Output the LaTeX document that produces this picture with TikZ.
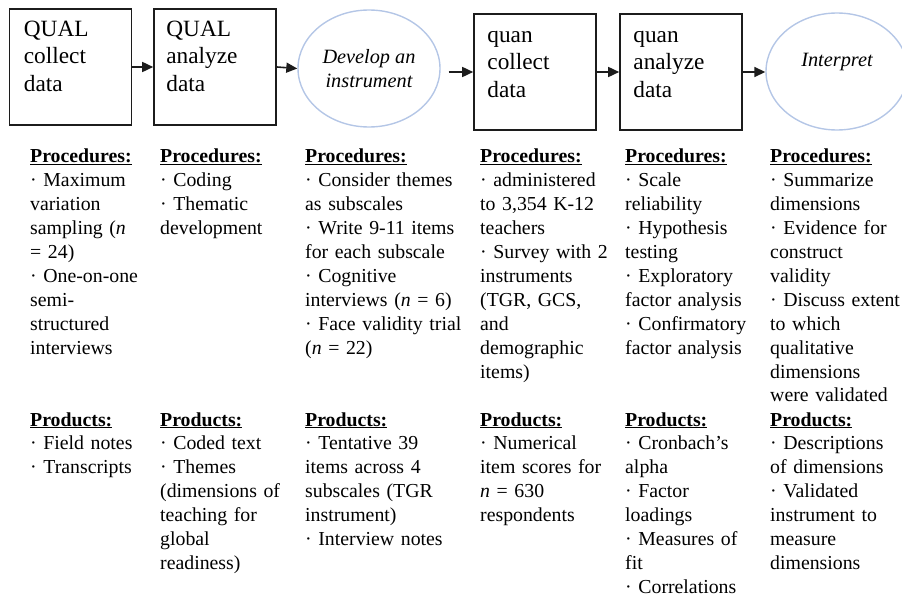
\documentclass[tikz,border=0pt]{standalone}
\usepackage{fontspec}
\setmainfont{Liberation Serif}
\usepackage{xcolor}
\usepackage{tikz}
\usetikzlibrary{positioning, arrows.meta, shapes.geometric}
\definecolor{ink}{HTML}{1C1C1C}
\definecolor{ovalline}{HTML}{B4C6E6}
\tikzset{
  stage/.style    = {rectangle, draw=ink, line width=1.6pt, inner sep=0pt,
                     minimum width=122pt, minimum height=116pt},
  stagetxt/.style = {anchor=base west, align=left, inner sep=0pt, text width=104pt,
                     font=\fontsize{23.3}{27.8}\selectfont},
  oval/.style     = {ellipse, draw=ovalline, line width=1.4pt, inner sep=0pt,
                     minimum width=142pt, minimum height=117pt, align=center,
                     font=\fontsize{20.3}{24}\selectfont\itshape},
  notes/.style    = {anchor=base west, align=left, inner sep=0pt, text width=170pt,
                     font=\fontsize{19.8}{23.9}\selectfont},
  ar/.style       = {-{Triangle[length=11pt,width=10pt]}, line width=1.6pt, draw=ink},
}
\newcommand{\hd}[1]{\underline{\textbf{#1}}}

\begin{document}
\begin{tikzpicture}[x=1pt, y=-1pt]
  \useasboundingbox (0,0) rectangle (902,599);

  % top row
  \node[stage] (qlcol) at (70.5,67) {};
  \node[stage] (qlana) at (215,67) {};
  \node[oval]  (dev)   at (369,68.5) {Develop an\\instrument};
  \node[stage] (qncol) at (535,72) {};
  \node[stage] (qnana) at (681,72) {};
  \node[oval, text height=14pt, text depth=23pt] (interp) at (837,71.5) {Interpret};

  \node[stagetxt] (qlcolt) at ([xshift=15pt, yshift=-28pt]qlcol.north west) {QUAL\\collect\\data};
  \node[stagetxt] (qlanat) at ([xshift=13pt, yshift=-28pt]qlana.north west) {QUAL\\analyze\\data};
  \node[stagetxt] (qncolt) at ([xshift=14pt, yshift=-29pt]qncol.north west) {quan\\collect\\data};
  \node[stagetxt] (qnanat) at ([xshift=14pt, yshift=-29pt]qnana.north west) {quan\\analyze\\data};

  \draw[ar] (qlcol.east) -- (qlana.west);
  \draw[ar] (qlana.east) -- (dev.west);
  \draw[ar, shorten <=8pt] (dev.east |- qncol.west) -- (qncol.west);
  \draw[ar] (qncol.east) -- (qnana.west);
  \draw[ar] (qnana.east) -- (interp.west |- qnana.east);

  % procedures
  \node[notes] (proc1) at (30,163) {\hd{Procedures:}\\
    · Maximum\\ variation\\ sampling (\textit{n}\\ = 24)\\ · One-on-one\\ semi-\\ structured\\ interviews};
  \node[notes] (proc2) at (160,163) {\hd{Procedures:}\\
    · Coding\\ · Thematic\\ development};
  \node[notes] (proc3) at (305,163) {\hd{Procedures:}\\
    · Consider themes\\ as subscales\\ · Write 9-11 items\\ for each subscale\\
    · Cognitive\\ interviews (\textit{n} = 6)\\ · Face validity trial\\ (\textit{n} = 22)};
  \node[notes] (proc4) at (480,163) {\hd{Procedures:}\\
    · administered\\ to 3,354 K-12\\ teachers\\ · Survey with 2\\ instruments\\
    (TGR, GCS,\\ and\\ demographic\\ items)};
  \node[notes] (proc5) at (625,163) {\hd{Procedures:}\\
    · Scale\\ reliability\\ · Hypothesis\\ testing\\ · Exploratory\\
    factor analysis\\ · Confirmatory\\ factor analysis};
  \node[notes] (proc6) at (770,163) {\hd{Procedures:}\\
    · Summarize\\ dimensions\\ · Evidence for\\ construct\\ validity\\
    · Discuss extent\\ to which\\ qualitative\\ dimensions\\ were validated};

  % products
  \node[notes] (prod1) at (30,426) {\hd{Products:}\\
    · Field notes\\ · Transcripts};
  \node[notes] (prod2) at (160,426) {\hd{Products:}\\
    · Coded text\\ · Themes\\ (dimensions of\\ teaching for\\ global\\ readiness)};
  \node[notes] (prod3) at (305,426) {\hd{Products:}\\
    · Tentative 39\\ items across 4\\ subscales (TGR\\ instrument)\\ · Interview notes};
  \node[notes] (prod4) at (480,426) {\hd{Products:}\\
    · Numerical\\ item scores for\\ \textit{n} = 630\\ respondents};
  \node[notes] (prod5) at (625,426) {\hd{Products:}\\
    · Cronbach’s\\ alpha\\ · Factor\\ loadings\\ · Measures of\\ fit\\ · Correlations};
  \node[notes] (prod6) at (770,426) {\hd{Products:}\\
    · Descriptions\\ of dimensions\\ · Validated\\ instrument to\\ measure\\ dimensions};

\end{tikzpicture}
\end{document}
